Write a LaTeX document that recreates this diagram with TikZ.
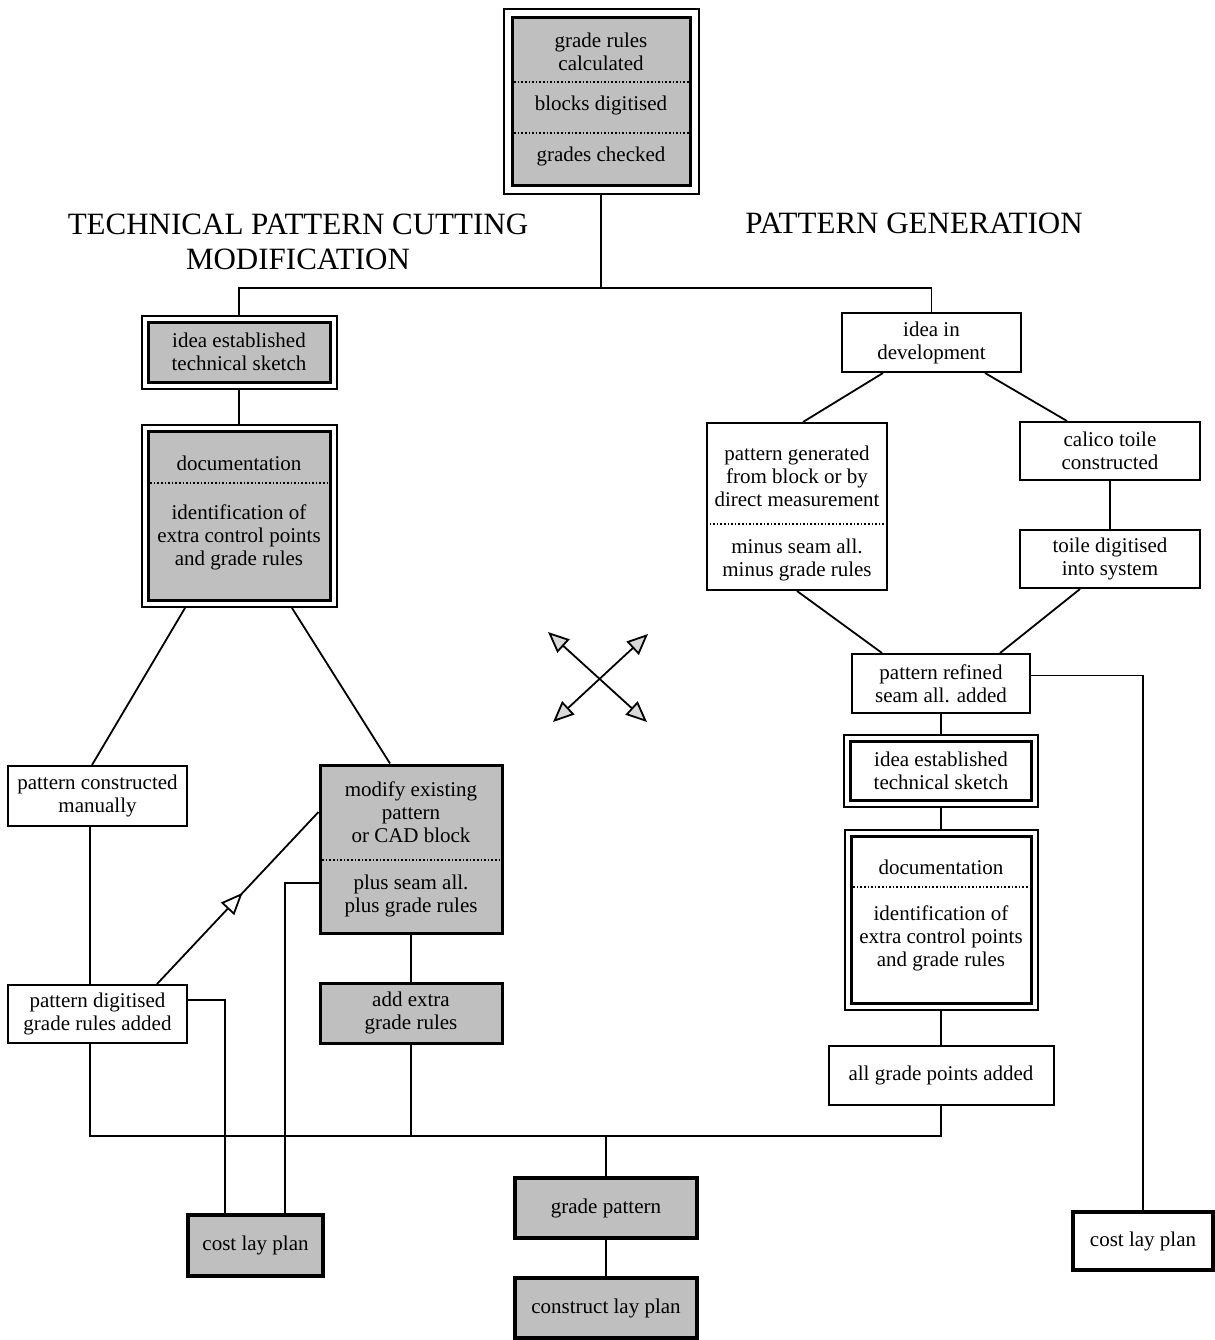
\documentclass[tikz,border=0pt]{standalone}
\usepackage{fontspec}
\setmainfont{Liberation Serif}
\usetikzlibrary{positioning,fit,arrows.meta,decorations.markings}

\tikzset{
  box/.style={draw, line width=1pt, align=center, inner sep=0pt},
  greybox/.style={box, fill=black!25, line width=1.5pt},
  heavy/.style={box, line width=2pt},
  heavygrey/.style={heavy, fill=black!25},
  outerframe/.style={draw, line width=1pt, inner sep=2.5pt},
  lbl/.style={align=center, inner sep=0pt},
  link/.style={line width=0.9pt},
  divider/.style={densely dotted, line width=0.8pt},
  heading/.style={align=center, font=\fontsize{15.5}{17.5}\selectfont},
  dims/.style 2 args={minimum width=#1, minimum height=#2},
  midarrow/.style={postaction={decorate}, decoration={markings,
    mark=at position 0.53 with {\arrow{Triangle[fill=white, length=11pt, width=9pt]}}}},
}

\begin{document}
\begin{tikzpicture}[x=0.5pt, y=-0.5pt, font=\fontsize{10.5}{11.5}\selectfont,
  >={Triangle[fill=black!15, length=10.5pt, width=9pt]}]
\useasboundingbox (0,0) rectangle (1215,1340);

% grading block at the top
\node[greybox, dims={89pt}{84pt}] (grades) at (601,101) {};
\node[outerframe, inner sep=3.5pt, fit=(grades)] (gradesF) {};
\node[lbl] (grRules) at (601,52) {grade rules\\calculated};
\node[lbl] (grBlocks) at (601,105) {blocks digitised};
\node[lbl] (grChecked) at (601,156) {grades checked};
\draw[divider] (grades.west |- 0,82) -- (grades.east |- 0,82);
\draw[divider] (grades.west |- 0,133) -- (grades.east |- 0,133);

\node[heading] (tpcHead) at (298,242) {TECHNICAL PATTERN CUTTING\\MODIFICATION};
\node[heading] (pgHead) at (914,223) {PATTERN GENERATION};

% left branch
\node[greybox, dims={91pt}{30pt}] (ideaL) at (239,352) {idea established\\technical sketch};
\node[outerframe, fit=(ideaL)] (ideaLF) {};
\node[greybox, dims={91pt}{84.5pt}] (docL) at (239,516) {};
\node[outerframe, fit=(docL)] (docLF) {};
\node[lbl] (docLTop) at (239,463) {documentation};
\node[lbl] (docLBot) at (239,537) {identification of\\extra control points\\and grade rules};
\draw[divider] (docL.west |- 0,483) -- (docL.east |- 0,483);

\node[box, dims={89.5pt}{30pt}] (manual) at (97.5,796) {pattern constructed\\manually};
\node[greybox, dims={91pt}{84pt}] (modify) at (411,849) {};
\node[lbl] (modTop) at (411,812) {modify existing\\pattern\\or CAD block};
\node[lbl] (modBot) at (411,895.5) {plus seam all.\\plus grade rules};
\draw[divider] (modify.west |- 0,860) -- (modify.east |- 0,860);
\node[box, dims={89.5pt}{29pt}] (digit) at (97.5,1014) {pattern digitised\\grade rules added};
\node[greybox, dims={91pt}{30pt}] (addx) at (411,1013) {add extra\\grade rules};
\node[heavygrey, dims={67.5pt}{30.5pt}] (costL) at (255.5,1245.5) {cost lay plan};

% centre bottom
\node[heavygrey, dims={91pt}{30pt}] (gradeP) at (606,1208) {grade pattern};
\node[heavygrey, dims={91pt}{30pt}] (layPlan) at (606,1308) {construct lay plan};

% right branch
\node[box, dims={89.5pt}{29.5pt}] (ideaDev) at (931.5,342.5) {idea in\\development};
\node[box, dims={90pt}{83.5pt}] (patGen) at (797,506.5) {};
\node[lbl] (patGenTop) at (797,476) {pattern generated\\from block or by\\direct measurement};
\node[lbl] (patGenBot) at (797,559.5) {minus seam all.\\minus grade rules};
\draw[divider] (patGen.west |- 0,524) -- (patGen.east |- 0,524);
\node[box, dims={90pt}{29pt}] (calico) at (1110,451) {calico toile\\constructed};
\node[box, dims={90pt}{29pt}] (toile) at (1110,559) {toile digitised\\into system};
\node[box, dims={89pt}{29.5pt}] (refined) at (941,683.5) {pattern refined\\seam all. added};
\node[box, line width=1.5pt, dims={90.5pt}{29.5pt}] (ideaR) at (941,770.5) {idea established\\technical sketch};
\node[outerframe, fit=(ideaR)] (ideaRF) {};
\node[box, line width=1.5pt, dims={90pt}{83.5pt}] (docR) at (941,919.5) {};
\node[outerframe, fit=(docR)] (docRF) {};
\node[lbl] (docRTop) at (941,867) {documentation};
\node[lbl] (docRBot) at (941,938) {identification of\\extra control points\\and grade rules};
\draw[divider] (docR.west |- 0,887) -- (docR.east |- 0,887);
\node[box, dims={112.5pt}{29.5pt}] (allGrade) at (941,1075.5) {all grade points added};
\node[heavy, dims={70pt}{29pt}] (costR) at (1143,1241) {cost lay plan};

% connectors
\coordinate (topBus) at (601,288);
\coordinate (botBus) at (606,1136);
\draw[link] (gradesF.south) -- (topBus);
\draw[link] (ideaLF.north) |- (topBus) -| (ideaDev.north);
\draw[link] (ideaLF.south) -- (docLF.north);
\draw[link] ([xshift=-27pt]docLF.south) -- ([xshift=-2.75pt]manual.north);
\draw[link] ([xshift=26.5pt]docLF.south) -- ([xshift=-10.5pt]modify.north);
\draw[link] ([xshift=-3.75pt]manual.south) -- ([xshift=-3.75pt]digit.north);
\draw[link, midarrow] ([xshift=29.75pt]digit.north) -- (modify.west |- 0,812);
\draw[link] (modify.west |- 0,883) -| ([xshift=14.75pt]costL.north);
\draw[link] (digit.east |- 0,1000) -| ([xshift=-15.25pt]costL.north);
\draw[link] (modify.south) -- (addx.north);
\draw[link] ([xshift=-3.75pt]digit.south) |- (botBus) -| (allGrade.south);
\draw[link] (addx.south) -- (addx.south |- botBus);
\draw[link] (botBus) -- (gradeP.north);
\draw[link] (gradeP.south) -- (layPlan.north);

\draw[link] ([xshift=-24.25pt]ideaDev.south) -- ([xshift=3pt]patGen.north);
\draw[link] ([xshift=26.75pt]ideaDev.south) -- ([xshift=-21.5pt]calico.north);
\draw[link] (calico.south) -- (toile.north);
\draw[link] (patGen.south) -- ([xshift=-29.5pt]refined.north);
\draw[link] ([xshift=-15pt]toile.south) -- ([xshift=29.5pt]refined.north);
\draw[link] ([yshift=4pt]refined.east) -| (costR.north);
\draw[link] (refined.south) -- (ideaRF.north);
\draw[link] (ideaRF.south) -- (docRF.north);
\draw[link] (docRF.south) -- (allGrade.north);

% crossed arrows in the middle
\coordinate (swTip) at (553,722);
\coordinate (neTip) at (648,634);
\coordinate (nwTip) at (548,632);
\coordinate (seTip) at (647,722);
\draw[link, <->] (swTip) -- (neTip);
\draw[link, <->] (nwTip) -- (seTip);
\end{tikzpicture}
\end{document}
